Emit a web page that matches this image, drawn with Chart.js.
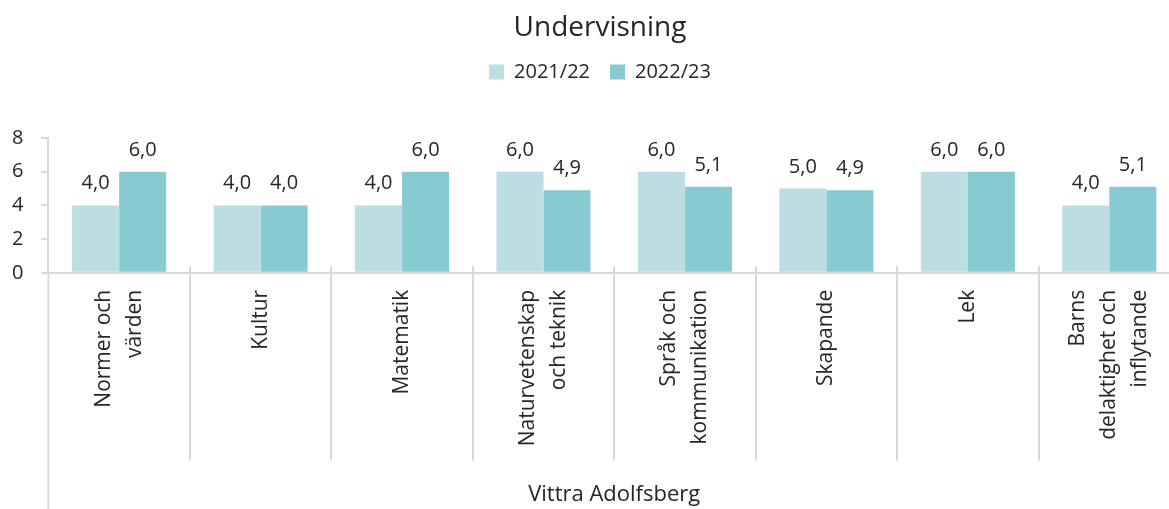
<!DOCTYPE html>
<html>
<head>
<meta charset="utf-8">
<script src="https://cdn.jsdelivr.net/npm/chart.js@4"></script>
<style>
  html, body { margin: 0; padding: 0; background: #fff; overflow: hidden; }
  #wrap { width: 1200px; height: 509px; }
</style>
</head>
<body>
<div id="wrap"><canvas id="undervisningChart"></canvas></div>
<script>
const categories = [
    ['Normer och', 'värden'],
    ['Kultur'],
    ['Matematik'],
    ['Naturvetenskap', 'och teknik'],
    ['Språk och', 'kommunikation'],
    ['Skapande'],
    ['Lek'],
    ['Barns', 'delaktighet och', 'inflytande']
];
const seriesNames = ['2021/22', '2022/23'];
const values2122 = [4.0, 4.0, 4.0, 6.0, 6.0, 5.0, 6.0, 4.0];
const values2223 = [6.0, 4.0, 6.0, 4.9, 5.1, 4.9, 6.0, 5.1];
const yTicks = [0, 2, 4, 6, 8];
const groupLabel = 'Vittra Adolfsberg';

const FONT = '"Open Sans", "Noto Sans", sans-serif';
const TEXT = '#262626';
const AXIS = '#d9d9d9';

// extra room between legend and plot, header centred on the whole chart box
const headerLayout = {
    id: 'headerLayout',
    beforeInit(chart) {
        const fit = chart.legend.fit;
        chart.legend.fit = function() {
            fit.call(this);
            this.height += 46;
        };
    },
    afterLayout(chart) {
        [chart.titleBlock, chart.legend].forEach(box => {
            if (!box) return;
            box.left += 13;
            box.right += 13;
        });
    }
};

// value labels above bars, Swedish decimal comma
const valueLabels = {
    id: 'valueLabels',
    afterDatasetsDraw(chart) {
        const ctx = chart.ctx;
        ctx.save();
        ctx.font = '20px ' + FONT;
        ctx.fillStyle = TEXT;
        ctx.textAlign = 'center';
        ctx.textBaseline = 'alphabetic';
        chart.data.datasets.forEach((ds, di) => {
            chart.getDatasetMeta(di).data.forEach((bar, i) => {
                ctx.fillText(ds.data[i].toFixed(1).replace('.', ','), bar.x, bar.y - 16);
            });
        });
        ctx.restore();
    }
};

// rotated category labels, separators and extended axis line
const categoryAxis = {
    id: 'categoryAxis',
    afterDraw(chart) {
        const ctx = chart.ctx;
        const x = chart.scales.x;
        const area = chart.chartArea;
        const lh = 31;
        ctx.save();
        ctx.strokeStyle = AXIS;
        ctx.lineWidth = 2;
        ctx.beginPath();
        ctx.moveTo(area.left, area.bottom);
        ctx.lineTo(area.left, chart.height);
        for (let i = 1; i < categories.length; i++) {
            const sx = Math.round((x.getPixelForValue(i - 1) + x.getPixelForValue(i)) / 2);
            ctx.moveTo(sx, area.bottom - 7);
            ctx.lineTo(sx, area.bottom + 188);
        }
        ctx.stroke();

        ctx.font = '21px ' + FONT;
        ctx.fillStyle = TEXT;
        ctx.textAlign = 'right';
        ctx.textBaseline = 'middle';
        chart.data.labels.forEach((lines, i) => {
            const cx = x.getPixelForValue(i);
            lines.forEach((line, j) => {
                ctx.save();
                ctx.translate(cx + (j - (lines.length - 1) / 2) * lh, area.bottom + 17);
                ctx.rotate(-Math.PI / 2);
                ctx.fillText(line, 0, 0);
                ctx.restore();
            });
        });
        ctx.restore();
    }
};

new Chart(document.getElementById('undervisningChart'), {
    type: 'bar',
    data: {
        labels: categories,
        datasets: [
            {
                label: seriesNames[0],
                data: values2122,
                backgroundColor: '#bcdee3',
                borderWidth: 0,
                categoryPercentage: 0.665,
                barPercentage: 1
            },
            {
                label: seriesNames[1],
                data: values2223,
                backgroundColor: '#88cad2',
                borderWidth: 0,
                categoryPercentage: 0.665,
                barPercentage: 1
            }
        ]
    },
    options: {
        responsive: true,
        maintainAspectRatio: false,
        animation: false,
        layout: { padding: { left: -6, right: 20, top: 0, bottom: 0 } },
        plugins: {
            title: {
                display: true,
                text: 'Undervisning',
                color: TEXT,
                font: { family: FONT, size: 28, weight: 'normal', lineHeight: 1.0 },
                padding: { top: 14, bottom: 0 }
            },
            legend: {
                position: 'top',
                labels: {
                    color: TEXT,
                    font: { family: FONT, size: 20 },
                    boxWidth: 15,
                    boxHeight: 15,
                    padding: 20
                }
            },
            tooltip: { enabled: false }
        },
        scales: {
            x: {
                grid: { display: false, drawTicks: false },
                border: { display: true, color: AXIS, width: 2 },
                ticks: { display: false },
                title: {
                    display: true,
                    text: groupLabel,
                    color: TEXT,
                    font: { family: FONT, size: 22, lineHeight: 1.2 },
                    padding: { top: 208.8, bottom: 1 }
                }
            },
            y: {
                min: 0,
                max: 8,
                afterBuildTicks(axis) { axis.ticks = yTicks.map(v => ({ value: v })); },
                grid: { display: true, drawOnChartArea: false, drawTicks: true, tickLength: 7, color: AXIS, lineWidth: 2 },
                border: { display: true, color: AXIS, width: 2 },
                ticks: { color: TEXT, font: { family: FONT, size: 20 }, padding: 18 }
            }
        }
    },
    plugins: [headerLayout, valueLabels, categoryAxis]
});
</script>
</body>
</html>
